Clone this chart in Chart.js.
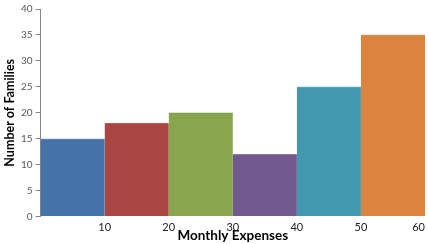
<!DOCTYPE html>
<html>
<head>
<meta charset="utf-8">
<script src="https://cdn.jsdelivr.net/npm/chart.js@4"></script>
<style>
  html, body { margin: 0; padding: 0; background: #fff; }
  #wrap { width: 428px; height: 244px; }
</style>
</head>
<body>
<div id="wrap"><canvas id="hist" width="428" height="244"></canvas></div>
<script>
// Histogram: monthly expenses vs number of families
const binEdges = [0, 10, 20, 30, 40, 50, 60];
const families = [15, 18, 20, 12, 25, 35];
const barColors = ['#4572a7', '#aa4643', '#89a54e', '#71588f', '#4198af', '#db843d'];
const edgeColors = ['#6f93c4', '#c26866', '#6f9a2e', '#8d78a8', '#5fb0c6', '#e69a5c'];
const yTicks = [0, 5, 10, 15, 20, 25, 30, 35, 40];

const FONT = 'Lato, "Open Sans", sans-serif';
const TICK = '#595959';
const AXIS = '#868686';

const points = families.map((v, i) => ({ x: (binEdges[i] + binEdges[i + 1]) / 2, y: v }));

new Chart(document.getElementById('hist'), {
  type: 'bar',
  data: {
    datasets: [{
      data: points,
      backgroundColor: barColors,
      borderColor: edgeColors,
      borderWidth: { top: 1, left: 0, right: 0, bottom: 0 },
      barPercentage: 1,
      categoryPercentage: 1,
    }],
  },
  options: {
    responsive: false,
    animation: false,
    layout: { padding: { top: 4, right: 3, left: 0, bottom: 0 } },
    plugins: { legend: { display: false }, tooltip: { enabled: false } },
    scales: {
      x: {
        type: 'linear',
        offset: false,
        min: binEdges[0],
        max: binEdges[binEdges.length - 1],
        grid: { display: false, drawTicks: false },
        border: { display: false },
        afterFit: axis => { axis.paddingRight = 0; },
        ticks: {
          stepSize: 10,
          padding: 4,
          align: 'inner',
          color: '#222',
          font: { family: FONT, size: 11 },
          callback: v => (v === 0 ? '' : v),
        },
        title: {
          display: true,
          text: 'Monthly Expenses',
          color: '#000',
          font: { family: FONT, size: 13.5, weight: 'bold' },
          padding: { top: -10, bottom: 0 },
        },
      },
      y: {
        min: yTicks[0],
        max: yTicks[yTicks.length - 1],
        afterBuildTicks: axis => { axis.ticks = yTicks.map(v => ({ value: v })); },
        grid: { drawOnChartArea: false, drawTicks: true, tickLength: 5, color: AXIS },
        border: { display: true, color: AXIS },
        ticks: {
          padding: 3,
          color: TICK,
          font: { family: FONT, size: 10 },
        },
        title: {
          display: true,
          text: 'Number of Families',
          color: '#000',
          font: { family: FONT, size: 12.5, weight: 'bold' },
          padding: { top: 2, bottom: 1 },
        },
      },
    },
  },
});
</script>
</body>
</html>
